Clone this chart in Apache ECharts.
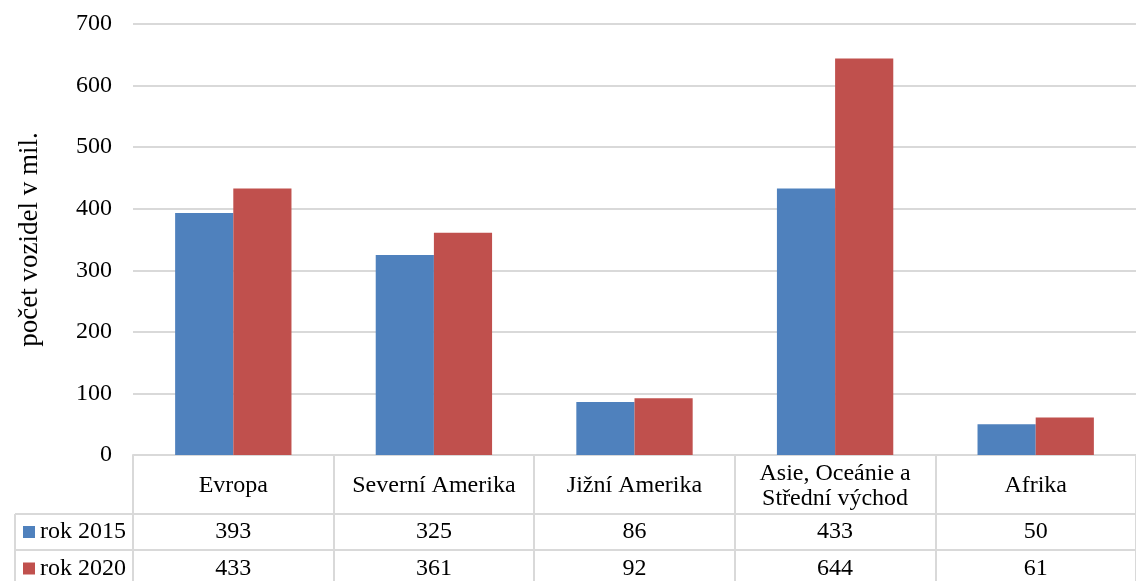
<!DOCTYPE html>
<html><head><meta charset="utf-8">
<script src="https://cdn.jsdelivr.net/npm/echarts@6/dist/echarts.min.js"></script>
<style>html,body{margin:0;padding:0;background:#fff}#c{width:1136px;height:581px}</style>
</head><body><div id="c"></div>
<script>
const categories = ['Evropa', 'Severní Amerika', 'Jižní Amerika', 'Asie, Oceánie a\nStřední východ', 'Afrika'];
const seriesNames = ['rok 2015', 'rok 2020'];
const values2015 = [393, 325, 86, 433, 50];
const values2020 = [433, 361, 92, 644, 61];
const colors = ['#4f81bd', '#c0504d'];
const FONT = '"Liberation Serif", "Times New Roman", serif';
const FS = 24;
const lineColor = '#d9d9d9';

const chart = echarts.init(document.getElementById('c'), null, {renderer: 'canvas'});
const gridTop = 24, gridBottom = 126, gridLeft = 133, gridRight = -2;
const row1 = 514, row2 = 550, tableLeft = 15, H = 581, W = 1136;

chart.setOption({
  animation: false,
  grid: {left: gridLeft, right: gridRight, top: gridTop, bottom: gridBottom, containLabel: false},
  xAxis: {
    type: 'category', data: categories,
    axisLine: {show: true, lineStyle: {color: lineColor, width: 2}},
    axisTick: {show: true, interval: 0, length: H - 455, lineStyle: {color: lineColor, width: 2}},
    axisLabel: {interval: 0, hideOverlap: false, color: '#000', fontFamily: FONT, fontSize: FS, lineHeight: 25, margin: 31,
      verticalAlign: 'middle'}
  },
  yAxis: {
    type: 'value', min: 0, max: 700, interval: 100,
    name: 'počet vozidel v mil.', nameLocation: 'middle', nameGap: 90, nameRotate: 90,
    nameTextStyle: {color: '#000', fontFamily: FONT, fontSize: 27},
    axisLine: {show: false}, axisTick: {show: false},
    axisLabel: {color: '#000', fontFamily: FONT, fontSize: FS, margin: 21},
    splitLine: {lineStyle: {color: lineColor, width: 2}}
  },
  series: [
    {name: seriesNames[0], type: 'bar', data: values2015, barGap: '0%', barCategoryGap: '42%',
     itemStyle: {color: colors[0]}},
    {name: seriesNames[1], type: 'bar', data: values2020, barGap: '0%', barCategoryGap: '42%',
     itemStyle: {color: colors[1]}}
  ]
});

// Data table drawn under the axis
const g = [];
g.push({type: 'line', shape: {x1: tableLeft, y1: row1, x2: W, y2: row1}, style: {stroke: lineColor, lineWidth: 2}});
g.push({type: 'line', shape: {x1: tableLeft, y1: row2, x2: W, y2: row2}, style: {stroke: lineColor, lineWidth: 2}});
g.push({type: 'line', shape: {x1: tableLeft, y1: row1, x2: tableLeft, y2: H}, style: {stroke: lineColor, lineWidth: 2}});
const rows = [values2015, values2020];
const rowCenters = [(row1 + row2) / 2, (row2 + H) / 2 + 3];
rows.forEach((vals, r) => {
  g.push({type: 'rect', shape: {x: 23, y: rowCenters[r] - 6, width: 12, height: 12}, style: {fill: colors[r]}});
  g.push({type: 'text', x: 40, y: rowCenters[r], style: {text: seriesNames[r], fill: '#000', font: FS + 'px ' + FONT, verticalAlign: 'middle', align: 'left'}});
  vals.forEach((v, i) => {
    const x = chart.convertToPixel({xAxisIndex: 0}, i);
    g.push({type: 'text', x: x, y: rowCenters[r], style: {text: String(v), fill: '#000', font: FS + 'px ' + FONT, verticalAlign: 'middle', align: 'center'}});
  });
});
chart.setOption({graphic: g});
</script></body></html>
